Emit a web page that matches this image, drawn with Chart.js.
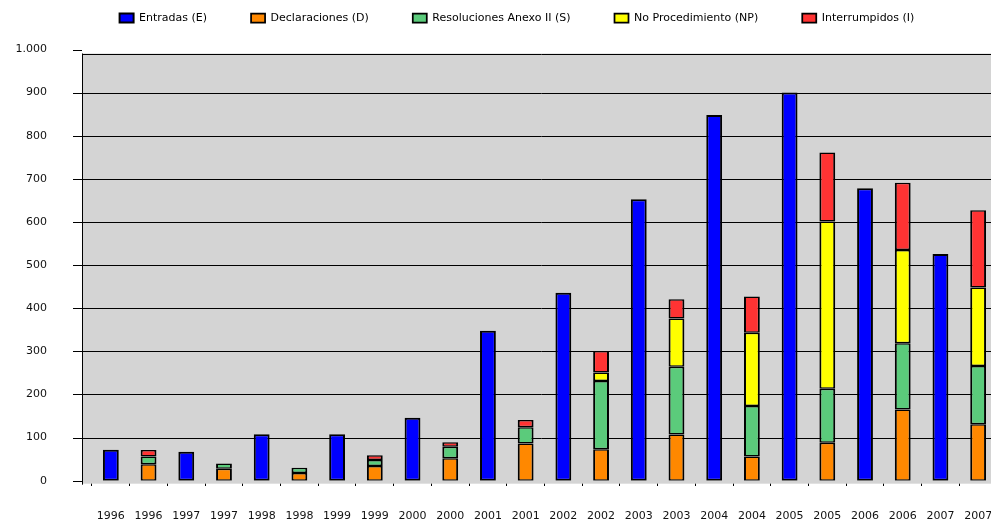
<!DOCTYPE html>
<html lang="es">
<head>
<meta charset="UTF-8">
<title>Entradas y resoluciones</title>
<script src="https://cdn.jsdelivr.net/npm/chart.js"></script>
<style>
  html, body { margin: 0; padding: 0; background: #fff; overflow: hidden; }
  #wrap { width: 1000px; height: 521px; }
</style>
</head>
<body>
<div id="wrap"><canvas id="chart" width="1000" height="521"></canvas></div>
<script>
// each year appears twice: entries bar, then the stacked results bar
const categories = ['1996', '1996', '1997', '1997', '1998', '1998', '1999', '1999', '2000', '2000', '2001', '2001',
  '2002', '2002', '2003', '2003', '2004', '2004', '2005', '2005', '2006', '2006', '2007', '2007'];

const entradas =        [72, null, 67, null, 108, null, 108, null, 146, null, 348, null, 436, null, 653, null, 848, null, 900, null, 678, null, 526, null];
const declaraciones =   [null, 38, null, 28, null, 18, null, 34, null, 52, null, 86, null, 73, null, 107, null, 56, null, 88, null, 165, null, 131];
const resoluciones =    [null, 18, null, 12, null, 12, null, 14, null, 27, null, 38, null, 158, null, 157, null, 117, null, 125, null, 154, null, 135];
const noProcedimiento = [null, 0, null, 0, null, 0, null, 0, null, 0, null, 0, null, 20, null, 112, null, 170, null, 388, null, 216, null, 182];
const interrumpidos =   [null, 15, null, 0, null, 0, null, 11, null, 10, null, 17, null, 50, null, 45, null, 84, null, 160, null, 156, null, 179];

const yTicks = [0, 100, 200, 300, 400, 500, 600, 700, 800, 900, 1000];

const fontFamily = '"DejaVu Sans", sans-serif';

function fmt(v) {
  return String(v).replace(/(\d)(\d{3})$/, '$1.$2');
}

// extra room under the legend
const legendGap = {
  id: 'legendGap',
  beforeInit(chart) {
    const fit = chart.legend.fit;
    chart.legend.fit = function () {
      fit.call(this);
      this.height += 16;
    };
  }
};

// grey wall, grid lines and the y axis line, drawn from the y scale
const wall = {
  id: 'wall',
  beforeDatasetsDraw(chart) {
    const ctx = chart.ctx;
    const area = chart.chartArea;
    const y = chart.scales.y;
    const x0 = area.left - 10;
    const top = y.getPixelForValue(yTicks[yTicks.length - 1]) + 4;
    const bottom = area.bottom + 3;
    ctx.save();
    ctx.fillStyle = '#d4d4d4';
    ctx.fillRect(x0, top, area.right - x0 + 20, bottom - top);
    ctx.strokeStyle = '#000';
    ctx.lineWidth = 1;
    ctx.beginPath();
    yTicks.forEach(v => {
      if (v === 0) return;
      let py = Math.round(y.getPixelForValue(v)) + 0.5;
      if (v === yTicks[yTicks.length - 1]) py = Math.round(top) + 0.5;
      ctx.moveTo(x0, py);
      ctx.lineTo(area.right + 20, py);
    });
    ctx.moveTo(x0 + 0.5, top);
    ctx.lineTo(x0 + 0.5, bottom + 1);
    yTicks.forEach(v => {
      const py = Math.round(y.getPixelForValue(v)) + 0.5;
      ctx.moveTo(x0 - 9, py);
      ctx.lineTo(x0, py);
    });
    ctx.stroke();
    ctx.restore();
  }
};

const stackBorder = { top: 1.5, bottom: 1.5, left: 2, right: 2 };

new Chart(document.getElementById('chart'), {
  type: 'bar',
  data: {
    labels: categories,
    datasets: [
      { label: 'Entradas (E)', data: entradas, backgroundColor: '#0000ff', borderWidth: 2 },
      { label: 'Declaraciones (D)', data: declaraciones, backgroundColor: '#ff8800', borderWidth: stackBorder },
      { label: 'Resoluciones Anexo II (S)', data: resoluciones, backgroundColor: '#5bcb7b', borderWidth: stackBorder },
      { label: 'No Procedimiento (NP)', data: noProcedimiento, backgroundColor: '#ffff00', borderWidth: stackBorder },
      { label: 'Interrumpidos (I)', data: interrumpidos, backgroundColor: '#ff3333', borderWidth: stackBorder }
    ]
  },
  options: {
    responsive: false,
    animation: false,
    devicePixelRatio: 1,
    datasets: {
      bar: {
        borderColor: '#000',
        borderSkipped: false,
        barPercentage: 0.42,
        categoryPercentage: 1
      }
    },
    layout: { padding: { left: 37, right: 3, top: -31.5, bottom: 0 } },
    plugins: {
      tooltip: { enabled: false },
      legend: {
        position: 'top',
        labels: {
          boxWidth: 14,
          boxHeight: 9,
          padding: 44,
          color: '#000',
          font: { family: fontFamily, size: 11 }
        }
      }
    },
    scales: {
      x: {
        stacked: true,
        grid: {
          display: true, drawOnChartArea: false, drawTicks: true, offset: true,
          tickLength: 29, tickColor: '#000', tickBorderDash: [5, 100]
        },
        border: { display: true, color: '#444', width: 1 },
        ticks: {
          color: '#111',
          padding: 0,
          maxRotation: 0,
          autoSkip: false,
          font: { family: fontFamily, size: 11 }
        },
        afterFit(scale) { scale.height = 40.3; }
      },
      y: {
        stacked: true,
        min: yTicks[0],
        max: yTicks[yTicks.length - 1],
        grid: { display: false, drawTicks: false },
        border: { display: false },
        ticks: {
          stepSize: 100,
          mirror: true,
          crossAlign: 'far',
          padding: -76.5,
          color: '#111',
          font: { family: fontFamily, size: 11 },
          callback: v => fmt(v)
        },
        afterFit(scale) { scale.width = 55; }
      }
    }
  },
  plugins: [legendGap, wall]
});
</script>
</body>
</html>
